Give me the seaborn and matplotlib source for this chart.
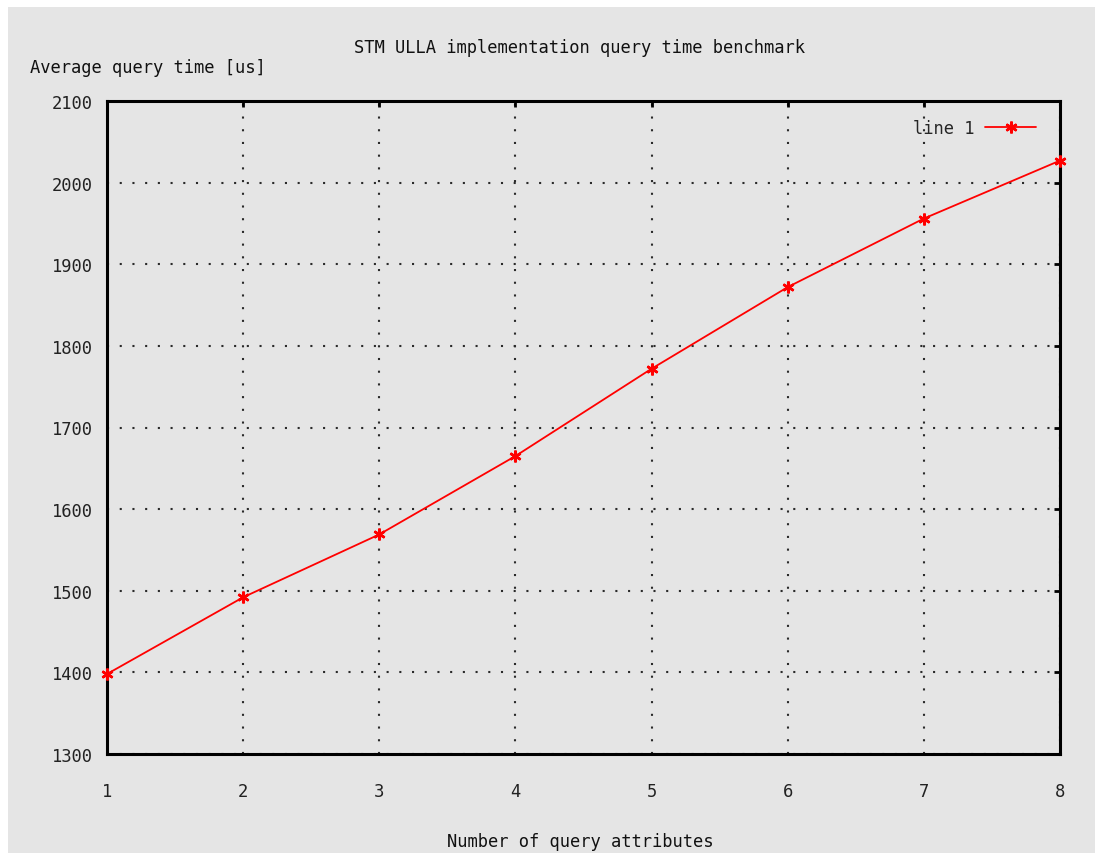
import matplotlib
matplotlib.use("Agg")
import matplotlib.pyplot as plt
from matplotlib.patches import Rectangle
import seaborn as sns
import pandas as pd

# Benchmark results
attributes = [1, 2, 3, 4, 5, 6, 7, 8]
query_time_us = [1398, 1492, 1569, 1665, 1772, 1872, 1956, 2027]
x_ticks = [1, 2, 3, 4, 5, 6, 7, 8]
y_ticks = [1300, 1400, 1500, 1600, 1700, 1800, 1900, 2000, 2100]

df = pd.DataFrame({"attributes": attributes, "time": query_time_us})

sns.set_style("white")
plt.rcParams["font.family"] = ["DejaVu Sans Mono", "DejaVu Sans"]
plt.rcParams["font.size"] = 12.3

BG = "#e5e5e5"
W, H = 1095, 854
fig = plt.figure(figsize=(W / 100, H / 100), dpi=100, facecolor="white")
fig.patches.append(Rectangle((8 / W, 0), 1 - 8 / W, 1 - 8 / H,
                             transform=fig.transFigure, facecolor=BG,
                             edgecolor="none", zorder=-10))

ax = fig.add_axes([107 / W, 1 - 755 / H, (1060 - 107) / W, (755 - 102) / H])
ax.set_facecolor(BG)

sns.lineplot(data=df, x="attributes", y="time", ax=ax, color="#ff0000",
             linewidth=1.3, marker=(6, 2, 0), markersize=8.5,
             markeredgewidth=1.8, markeredgecolor="#ff0000",
             label="line 1", zorder=5, clip_on=False)

ax.set_xlim(1, 8)
ax.set_ylim(1300, 2100)
ax.set_xticks(x_ticks)
ax.set_yticks(y_ticks)
ax.set_xlabel("")
ax.set_ylabel("")

for s in ax.spines.values():
    s.set_visible(True)
    s.set_linewidth(2.2)
    s.set_color("black")

ax.tick_params(axis="both", which="both", direction="in", length=4.5,
               width=2, colors="black", top=True, right=True,
               labelsize=12.3, labelcolor="#222222")
ax.tick_params(axis="x", pad=20)
ax.tick_params(axis="y", pad=10)

ax.grid(True, color="#2a2a2a", linestyle=(0, (1, 5.1)), linewidth=1.5)
ax.set_axisbelow(True)

leg = ax.legend(loc="upper right", bbox_to_anchor=(0.984, 0.986),
                frameon=False, markerfirst=False, handlelength=3.0,
                handletextpad=0.6, borderpad=0, fontsize=12.3)

fig.text(580 / W, 1 - 48 / H, "STM ULLA implementation query time benchmark",
         ha="center", va="center", fontsize=12.3, color="#111111")
fig.text(30 / W, 1 - 68 / H, "Average query time [us]",
         ha="left", va="center", fontsize=12.3, color="#111111")
fig.text(580 / W, 1 - 842 / H, "Number of query attributes",
         ha="center", va="center", fontsize=12.3, color="#111111")

fig.savefig("out.png", dpi=100, facecolor=fig.get_facecolor())
